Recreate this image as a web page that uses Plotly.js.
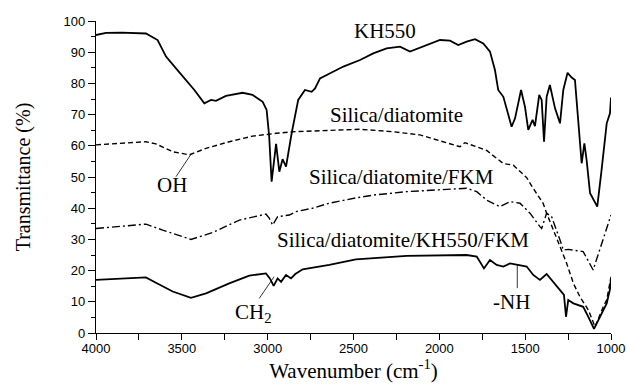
<!DOCTYPE html>
<html>
<head>
<meta charset="utf-8">
<script src="https://cdn.plot.ly/plotly-3.0.1.min.js"></script>
<style>html,body{margin:0;padding:0;background:#fff;}#chart{width:629px;height:387px;}</style>
</head>
<body>
<div id="chart"></div>
<script>
// KH550
const kh550Wn = [4000,3942,3850,3709,3641,3592,3534,3476,3427,3369,3330,3301,3243,3146,3088,3029,3006,2991,2977,2951,2932,2913,2893,2860,2822,2783,2744,2724,2695,2656,2559,2462,2385,2307,2229,2171,2074,1996,1938,1890,1841,1792,1744,1705,1676,1657,1627,1608,1579,1559,1524,1501,1482,1457,1443,1418,1404,1390,1375,1356,1326,1297,1278,1253,1229,1210,1196,1171,1155,1142,1122,1093,1080,1055,1025,1006,1000];
const kh550T = [95.5,96.2,96.3,96.0,93.9,88.6,84.8,81.1,77.9,73.6,74.7,74.4,76.0,77.0,76.3,74.1,71.5,62.9,48.5,60.6,51.7,55.7,53.3,64.1,74.7,77.9,77.3,78.4,81.6,82.7,85.4,87.5,89.6,91.2,91.8,90.2,92.3,93.9,93.7,92.3,93.4,94.2,92.8,90.2,84.3,77.9,75.7,71.5,66.1,68.8,77.9,72.5,65.1,68.3,66.3,76.3,74.7,61.3,75.7,79.5,72.0,67.2,77.9,83.4,81.9,81.1,70.4,54.4,60.8,55.4,44.8,42.1,40.5,52.2,67.2,70.4,75.5];

// Silica/diatomite
const sdWn = [4000,3709,3651,3553,3456,3359,3224,3088,2951,2851,2462,2268,2113,2016,1880,1851,1724,1627,1588,1569,1491,1472,1395,1375,1297,1258,1219,1181,1132,1093,1045,1025,1000];
const sdT = [60.3,61.3,60.6,58.1,57.1,59.2,61.3,63.1,64.0,64.5,65.3,64.5,63.5,61.9,59.7,61.0,58.5,54.3,53.8,53.8,49.8,48.0,41.5,38.4,27.7,22.3,15.9,11.6,7.4,2.0,8.4,10.6,18.0];

// Silica/diatomite/FKM
const sdfWn = [4000,3709,3612,3447,3320,3165,3010,2991,2971,2942,2874,2835,2738,2641,2486,2385,2190,1996,1841,1782,1724,1647,1588,1530,1472,1414,1404,1375,1346,1297,1278,1249,1162,1104,1045,1006,1000];
const sdfT = [33.5,34.9,33.0,30.0,32.2,36.2,38.1,36.8,34.6,37.3,37.8,38.9,40.0,41.6,43.3,44.2,45.3,46.0,46.4,45.3,42.6,40.5,42.1,41.6,38.4,34.1,33.5,38.4,37.3,29.8,26.6,26.8,26.1,20.2,29.8,36.5,37.8];

// Silica/diatomite/KH550/FKM
const sdkfWn = [4000,3709,3651,3553,3447,3359,3224,3107,3010,2987,2965,2942,2922,2893,2864,2839,2796,2641,2486,2190,1841,1782,1740,1705,1666,1627,1588,1549,1491,1453,1414,1375,1337,1297,1274,1262,1249,1219,1162,1132,1099,1064,1025,1006,1000];
const sdkfT = [17.0,17.8,16.1,13.3,11.3,12.7,15.9,18.4,19.1,17.5,15.1,17.5,16.4,18.6,17.5,18.9,20.4,21.8,23.6,24.7,25.0,24.5,20.7,23.4,21.8,21.3,22.3,21.8,21.3,18.6,17.0,18.9,16.4,13.8,12.2,5.2,10.6,9.5,8.4,5.2,1.3,5.2,9.5,14.0,17.5];

const seriesNames = ["KH550","Silica/diatomite","Silica/diatomite/FKM","Silica/diatomite/KH550/FKM"];
const xTicks = [4000,3500,3000,2500,2000,1500,1000];
const yTicks = [0,10,20,30,40,50,60,70,80,90,100];

const serif = "Liberation Serif, Times New Roman, serif";
const sans = "Liberation Sans, Arial, sans-serif";

const traces = [
  {x: kh550Wn, y: kh550T, name: seriesNames[0], mode: "lines", line: {color: "#000", width: 1.8}},
  {x: sdWn, y: sdT, name: seriesNames[1], mode: "lines", line: {color: "#000", width: 1.4, dash: "5px,3px"}},
  {x: sdfWn, y: sdfT, name: seriesNames[2], mode: "lines", line: {color: "#000", width: 1.4, dash: "8px,3px,2px,3px"}},
  {x: sdkfWn, y: sdkfT, name: seriesNames[3], mode: "lines", line: {color: "#000", width: 1.8}}
];

const lbl = (text, x, y) => ({text, x, y, xref: "x", yref: "y", showarrow: false, xanchor: "center", yanchor: "middle", font: {family: serif, size: 21, color: "#000"}});
const pointer = (x0, y0, x1, y1) => ({type: "line", xref: "x", yref: "y", x0, y0, x1, y1, line: {color: "#000", width: 0.8}});

const layout = {
  width: 629, height: 387,
  margin: {l: 96, r: 18, t: 21, b: 54},
  paper_bgcolor: "#fff", plot_bgcolor: "#fff",
  showlegend: false,
  xaxis: {
    range: [4000, 1000], tickvals: xTicks, ticks: "outside", ticklen: 6, tickwidth: 1, tickcolor: "#000",
    showline: true, linecolor: "#000", linewidth: 1.2, showgrid: false, zeroline: false,
    minor: {dtick: 250, ticks: "outside", ticklen: 6, tickcolor: "#000", showgrid: false},
    tickfont: {family: sans, size: 13, color: "#000"}, ticklabelstandoff: -3,
    title: {text: "Wavenumber (cm<sup>-1</sup>)", font: {family: serif, size: 21, color: "#000"}, standoff: 2}
  },
  yaxis: {
    range: [0, 100], tickvals: yTicks, ticks: "outside", ticklen: 7, tickwidth: 1, tickcolor: "#000",
    showline: true, linecolor: "#000", linewidth: 1.2, showgrid: false, zeroline: false,
    minor: {dtick: 5, ticks: "outside", ticklen: 4, tickcolor: "#000", showgrid: false},
    tickfont: {family: sans, size: 13, color: "#000"},
    title: {text: "Transmittance (%)", font: {family: serif, size: 20, color: "#000"}, standoff: 27}
  },
  annotations: [
    lbl(seriesNames[0], 2317, 96.8),
    lbl(seriesNames[1], 2252, 69.9),
    lbl(seriesNames[2], 2223, 50.0),
    lbl(seriesNames[3], 2212, 29.8),
    lbl("OH", 3557, 47.4),
    lbl("CH<sub>2</sub>", 3085, 6.4),
    lbl("-NH", 1577, 9.9)
  ],
  shapes: [
    pointer(3449, 57.1, 3534, 50.1),
    pointer(2963, 18.0, 3049, 11.1),
    pointer(1546, 21.8, 1546, 14.4)
  ]
};

Plotly.newPlot("chart", traces, layout, {displayModeBar: false, staticPlot: true});
</script>
</body>
</html>
